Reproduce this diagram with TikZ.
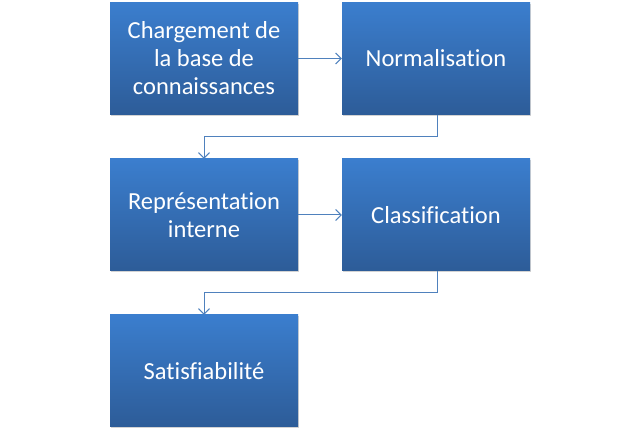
\documentclass[tikz,border=0pt]{standalone}
\usepackage{fontspec}
\setmainfont[Ligatures={NoCommon}]{Carlito}
\usetikzlibrary{shadows,arrows.meta}
\definecolor{boxtop}{RGB}{59,126,206}
\definecolor{boxbot}{RGB}{45,92,152}
\definecolor{conn}{RGB}{79,129,189}
\tikzset{
  stepbox/.style={rectangle, minimum width=188pt, minimum height=112pt, inner sep=0pt,
    top color=boxtop, bottom color=boxbot, draw=none,
    drop shadow={opacity=0.35, shadow xshift=1.2pt, shadow yshift=-1.5pt},
    text=white, align=center, font=\fontsize{24.5}{28}\selectfont},
  link/.style={draw=conn, line width=1pt, -{Straight Barb[length=5.5pt,width=11pt]}}
}
\begin{document}
\begin{tikzpicture}[x=1pt,y=-1pt]
\useasboundingbox (0,0) rectangle (640,435);
\node[stepbox] (b1) at (204,58.5) {Chargement de\\la base de\\connaissances};
\node[stepbox] (b2) at (436,58.5) {Normalisation};
\node[stepbox] (b3) at (204,215) {Représentation\\interne};
\node[stepbox] (b4) at (436,215) {Classification};
\node[stepbox] (b5) at (204,371) {Satisfiabilité};
\coordinate (c1) at (437,137);
\coordinate (c2) at (437,293);
\draw[link] (b1.east) -- (b2.west);
\draw[link] (b3.east) -- (b4.west);
\draw[link] (b2.south -| c1) -- (c1) -| (b3.north);
\draw[link] (b4.south -| c2) -- (c2) -| (b5.north);
\end{tikzpicture}
\end{document}
